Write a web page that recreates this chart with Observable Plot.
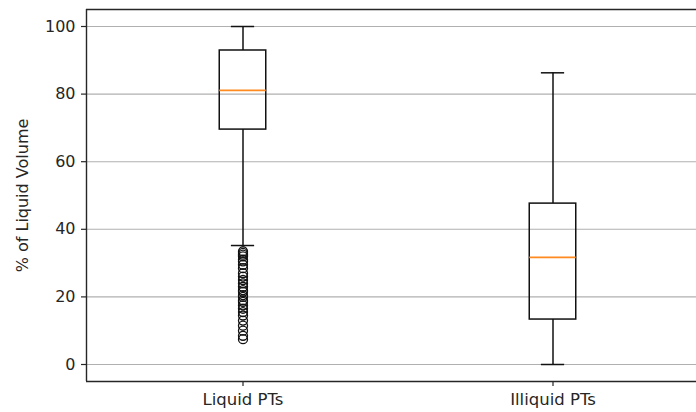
<!DOCTYPE html>
<html>
<head>
<meta charset="utf-8">
<script src="https://cdn.jsdelivr.net/npm/d3@7"></script>
<script src="https://cdn.jsdelivr.net/npm/@observablehq/plot@0.6"></script>
<style>
  html, body { margin: 0; padding: 0; background: #fff; }
  #chart svg { display: block; }
</style>
</head>
<body>
<div id="chart"></div>
<script>
const categories = ["Liquid PTs", "Illiquid PTs"];
const positions = [1, 2];
const whiskerLow = [35.2, 0];
const q1 = [69.5, 13.3];
const median = [81.1, 31.7];
const q3 = [92.9, 47.6];
const whiskerHigh = [100, 86.3];
const outliersLiquid = [33.5, 33, 32.5, 32, 31, 30.5, 29.5, 28.5, 27, 26, 25, 24, 23, 22, 21.5, 20.5, 20, 19, 18.5, 17.5, 16.5, 15.5, 14.5, 13, 11.5, 10, 8.5, 7.5];
const yTicks = [0, 20, 40, 60, 80, 100];

const boxes = categories.map((c, i) => ({
  cat: c, pos: positions[i], lo: whiskerLow[i], q1: q1[i], med: median[i], q3: q3[i], hi: whiskerHigh[i]
}));
const outliers = outliersLiquid.map(v => ({pos: positions[0], v}));

const halfBox = 0.075, halfCap = 0.0375;
const W = 696, H = 412;
const mL = 86, mR = 0, mT = 9, mB = 31;
const unitPx = 310;
const xMin = 0.5 - 1.5 / unitPx;
const xMax = xMin + (W - mL - mR) / unitPx;
const lineW = 1.5;

const chart = Plot.plot({
  width: W, height: H,
  marginLeft: mL, marginRight: mR, marginTop: mT, marginBottom: mB,
  style: {fontFamily: "DejaVu Sans", fontSize: "16px", color: "#262626", background: "#fff", overflow: "visible"},
  x: {type: "linear", domain: [xMin, xMax]},
  y: {domain: [-5.03, 105.03]},
  marks: [
    Plot.gridY(yTicks, {stroke: "#b0b0b0", strokeOpacity: 1, strokeWidth: 1.1}),
    Plot.axisY(yTicks, {tickSize: 5, tickPadding: 6, stroke: "#262626", strokeWidth: 1.2, label: "% of Liquid Volume", labelAnchor: "center", labelOffset: 70, labelArrow: "none", fontSize: 16}),
    Plot.axisX(positions, {tickSize: 5, tickPadding: 7, stroke: "#262626", strokeWidth: 1.2, tickFormat: d => categories[d - 1], label: null, fontSize: 16.5}),
    // whiskers
    Plot.ruleX(boxes, {x: "pos", y1: "lo", y2: "q1", stroke: "#111", strokeWidth: lineW}),
    Plot.ruleX(boxes, {x: "pos", y1: "q3", y2: "hi", stroke: "#111", strokeWidth: lineW}),
    // caps
    Plot.ruleY(boxes, {y: "lo", x1: d => d.pos - halfCap, x2: d => d.pos + halfCap, stroke: "#111", strokeWidth: lineW}),
    Plot.ruleY(boxes, {y: "hi", x1: d => d.pos - halfCap, x2: d => d.pos + halfCap, stroke: "#111", strokeWidth: lineW}),
    // boxes
    Plot.rect(boxes, {x1: d => d.pos - halfBox, x2: d => d.pos + halfBox, y1: "q1", y2: "q3", fill: "none", stroke: "#111", strokeWidth: lineW}),
    // medians
    Plot.ruleY(boxes, {y: "med", x1: d => d.pos - halfBox, x2: d => d.pos + halfBox, stroke: "#ff8a1f", strokeWidth: 1.8}),
    // outliers
    Plot.dot(outliers, {x: "pos", y: "v", r: 4.5, stroke: "#111", fill: "none", strokeWidth: 1.3}),
    // spines
    Plot.ruleY([-5.03, 105.03], {stroke: "#262626", strokeWidth: 1.4}),
    Plot.ruleX([xMin], {stroke: "#262626", strokeWidth: 1.4})
  ]
});
document.getElementById("chart").appendChild(chart);
</script>
</body>
</html>
